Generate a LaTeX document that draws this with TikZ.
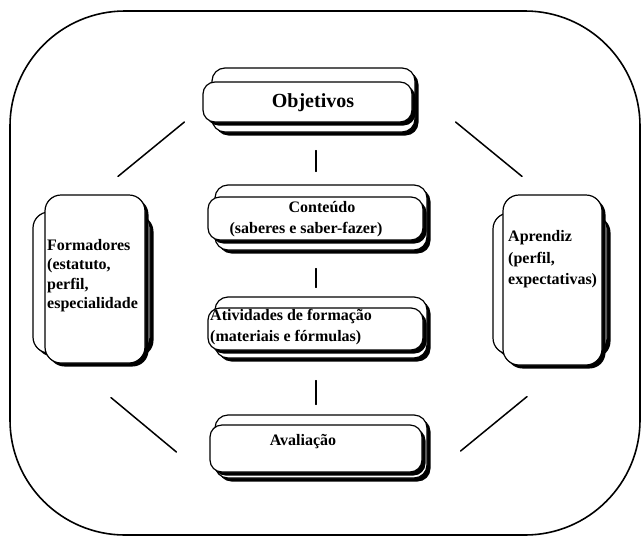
\documentclass[tikz,border=0pt]{standalone}
\usepackage{fontspec}
\setmainfont{Liberation Serif}
\usetikzlibrary{shadows}
\begin{document}
\begin{tikzpicture}[x=1pt,y=-1pt,
  frameline/.style={line width=1.6pt},
  link/.style={line width=1.5pt, line cap=round},
  shadowbox/.style={draw, fill=white, line width=1.2pt, rounded corners=#1, inner sep=0pt,
     drop shadow={shadow xshift=3.5pt, shadow yshift=-3.5pt, fill=black, opacity=1}},
  shadowbox/.default=13pt,
  label/.style={font=\bfseries\fontsize{16}{21}\selectfont, inner sep=0pt},
]
\useasboundingbox (0,0) rectangle (642,536);

% outer frame
\draw[frameline, rounded corners=115pt] (10,11) rectangle (640,535);

% Objetivos
\node[shadowbox, minimum width=203pt, minimum height=64pt] (objB) at (313.5,100) {};
\node[shadowbox=12pt, minimum width=209pt, minimum height=40pt] (objF) at (307.5,102) {};
\node[font=\bfseries\fontsize{20}{24}\selectfont, inner sep=0pt] (objT) at (313,103) {Objetivos};

% Conteudo
\node[shadowbox, minimum width=212pt, minimum height=65pt] (conB) at (321,217.5) {};
\node[shadowbox=12pt, minimum width=215pt, minimum height=43pt] (conF) at (315.5,218.5) {};
\node[label, align=center] (conT) at (306,219) {\hspace*{32pt}Conteúdo\\(saberes e saber-fazer)};

% Atividades de formacao
\node[shadowbox, minimum width=212pt, minimum height=61pt] (atvB) at (321,327.5) {};
\node[shadowbox=12pt, minimum width=215pt, minimum height=42pt] (atvF) at (315.5,329) {};
\node[label, align=left, anchor=west] (atvT) at (210,327.5) {Atividades de formação\\(materiais e fórmulas)};

% Avaliacao
\node[shadowbox, minimum width=212pt, minimum height=63pt] (avaB) at (321,446.5) {};
\node[shadowbox=12pt, minimum width=212pt, minimum height=47pt] (avaF) at (316,448.5) {};
\node[label] (avaT) at (303,442) {Avaliação};

% Formadores: wide box behind, tall box in front
\node[shadowbox=16pt, minimum width=117pt, minimum height=141pt] (forB) at (91.5,282.5) {};
\node[shadowbox=16pt, minimum width=100pt, minimum height=168pt] (forF) at (95,279) {};
\node[label, align=left, anchor=north west, font=\bfseries\fontsize{16}{19.5}\selectfont] (forT) at (47,239) {Formadores\\(estatuto,\\perfil,\\especialidade};

% Aprendiz: wide box behind, tall box in front
\node[shadowbox=16pt, minimum width=114pt, minimum height=141pt] (aprB) at (550,283.5) {};
\node[shadowbox=16pt, minimum width=99pt, minimum height=170pt] (aprF) at (552.5,280) {};
\node[label, align=left, anchor=north west, font=\bfseries\fontsize{16}{21.5}\selectfont] (aprT) at (508,230.5) {Aprendiz\\(perfil,\\expectativas)};

% vertical links
\draw[link] ([xshift=2.5pt,yshift=-18pt]objB.south) -- ([xshift=-5pt,yshift=13pt]conB.north);
\draw[link] ([xshift=-5pt,yshift=-18pt]conB.south) -- ([xshift=-5pt,yshift=9pt]atvB.north);
\draw[link] ([xshift=-5pt,yshift=-22pt]atvB.south) -- ([xshift=-5pt,yshift=10pt]avaB.north);

% diagonal links
\draw[link] ([xshift=-18pt,yshift=-20pt]objF.west) -- ([xshift=23pt,yshift=18pt]forF.north);
\draw[link] ([xshift=40pt,yshift=-22pt]objB.east) -- ([xshift=-30.5pt,yshift=18pt]aprF.north);
\draw[link] ([xshift=16pt,yshift=-34pt]forF.south) -- ([xshift=-33pt,yshift=-3.5pt]avaF.west);
\draw[link] ([xshift=-25.5pt,yshift=-31pt]aprF.south) -- ([xshift=33pt,yshift=-4.5pt]avaB.east);
\end{tikzpicture}
\end{document}
